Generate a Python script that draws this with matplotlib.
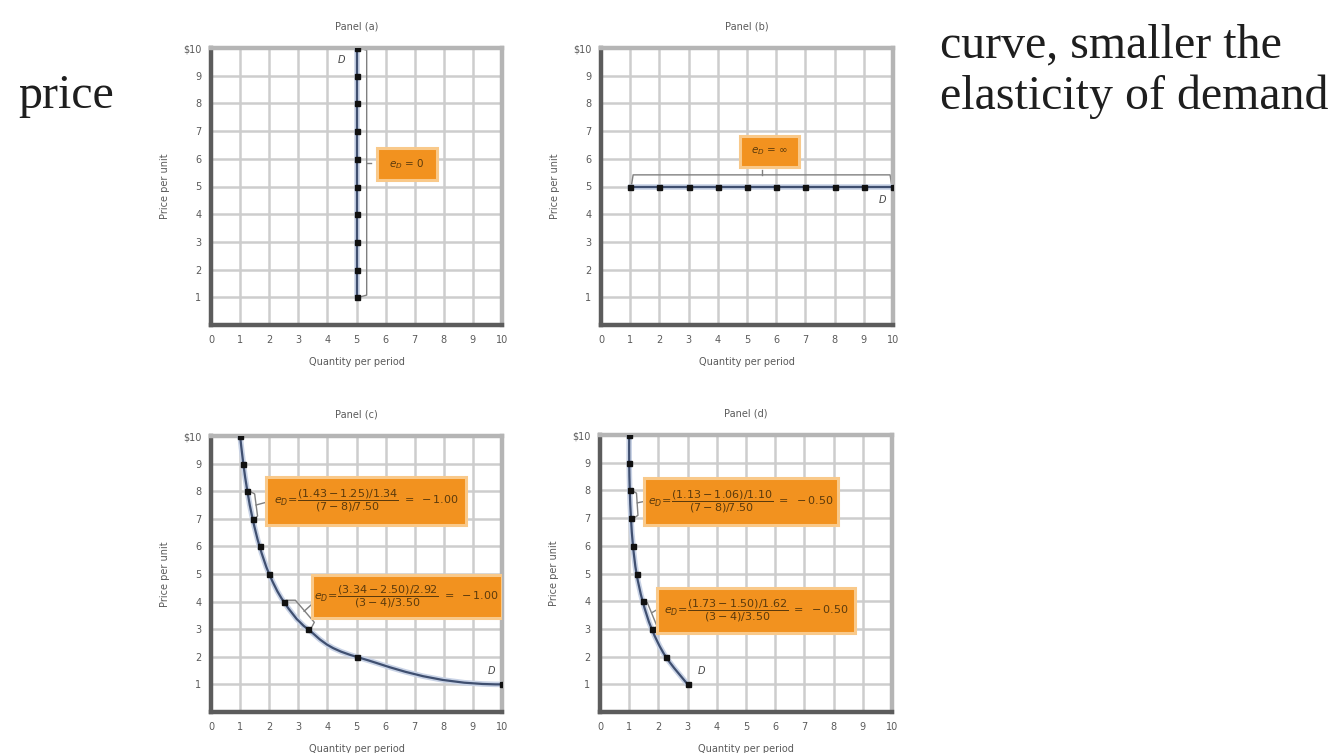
import matplotlib
matplotlib.use("Agg")
import matplotlib.pyplot as plt
import matplotlib.patheffects as pe
from matplotlib.patches import FancyBboxPatch, PathPatch
from matplotlib.path import Path

# ---------------- data ----------------
prices = [10, 9, 8, 7, 6, 5, 4, 3, 2, 1]
qty_a = [5, 5, 5, 5, 5, 5, 5, 5, 5, 5]
qty_b = [1, 2, 3, 4, 5, 6, 7, 8, 9, 10]
price_b = [5, 5, 5, 5, 5, 5, 5, 5, 5, 5]
qty_c = [1.00, 1.11, 1.25, 1.43, 1.67, 2.00, 2.50, 3.33, 5.00, 10.00]
qty_d = [1.00, 1.00, 1.02, 1.06, 1.13, 1.25, 1.46, 1.77, 2.25, 3.00]

panel_titles = ["Panel (a)", "Panel (b)", "Panel (c)", "Panel (d)"]
x_ticks = list(range(0, 11))
x_tick_labels = [str(v) for v in x_ticks]
y_ticks = list(range(1, 11))
y_tick_labels = [str(v) for v in range(1, 10)] + ["$10"]
x_label = "Quantity per period"
y_label = "Price per unit"

label_a = r"$e_D$ = 0"
label_b = r"$e_D$ = ∞"
labels_c = [r"$e_D\!=\!\dfrac{(1.43-1.25)/1.34}{(7-8)/7.50}\ =\ -1.00$",
            r"$e_D\!=\!\dfrac{(3.34-2.50)/2.92}{(3-4)/3.50}\ =\ -1.00$"]
labels_d = [r"$e_D\!=\!\dfrac{(1.13-1.06)/1.10}{(7-8)/7.50}\ =\ -0.50$",
            r"$e_D\!=\!\dfrac{(1.73-1.50)/1.62}{(3-4)/3.50}\ =\ -0.50$"]

side_left = "price"
side_right = ["curve, smaller the", "elasticity of demand"]

# ---------------- style ----------------
W, H = 1334, 753
fig = plt.figure(figsize=(W / 100, H / 100), dpi=100)
fig.patch.set_facecolor("white")

GRID = "#cdcdcd"
TXT = "#5a5a5a"
LINE = "#3f4f70"
BOX = "#F2921F"
BOXEDGE = "#F9C98A"
BTXT = "#5b3a0c"
BRK = "#808080"

def px_axes(l, t, r, b):
    return fig.add_axes([l / W, 1 - b / H, (r - l) / W, (b - t) / H])

def style(ax, title):
    ax.set_xlim(0, 10)
    ax.set_ylim(0, 10)
    ax.set_xticks(x_ticks)
    ax.set_xticklabels(x_tick_labels, fontsize=7, color=TXT)
    ax.set_yticks(y_ticks)
    ax.set_yticklabels(y_tick_labels, fontsize=7, color=TXT)
    ax.tick_params(length=0, pad=7)
    ax.grid(True, color=GRID, lw=1.8, zorder=0)
    ax.set_axisbelow(True)
    for s in ["left", "bottom"]:
        ax.spines[s].set_color("#5c5c5c")
        ax.spines[s].set_linewidth(3.2)
    for s in ["top", "right"]:
        ax.spines[s].set_color("#b5b5b5")
        ax.spines[s].set_linewidth(3.2)
    ax.set_title(title, fontsize=7, color=TXT, pad=13)
    ax.set_xlabel(x_label, fontsize=7, color=TXT, labelpad=9)
    ax.set_ylabel(y_label, fontsize=7, color=TXT, labelpad=9)

def smooth_path(xs, ys, flat_end=False):
    # Catmull-Rom spline through the points, drawn as cubic Bezier segments
    pts = list(zip(xs, ys))
    n = len(pts)
    verts = [pts[0]]
    codes = [Path.MOVETO]
    for i in range(n - 1):
        p0 = pts[i - 1] if i > 0 else pts[i]
        p1 = pts[i]
        p2 = pts[i + 1]
        p3 = pts[i + 2] if i + 2 < n else pts[i + 1]
        c1 = (p1[0] + (p2[0] - p0[0]) / 6, p1[1] + (p2[1] - p0[1]) / 6)
        c2 = (p2[0] - (p3[0] - p1[0]) / 6, p2[1] - (p3[1] - p1[1]) / 6)
        if flat_end and i == n - 2:
            c2 = (p2[0] - (p2[0] - p1[0]) / 2, p2[1])
        verts += [c1, c2, p2]
        codes += [Path.CURVE4] * 3
    return Path(verts, codes)

def curve(ax, xs, ys, smooth=False, flat_end=False):
    effects = [pe.Stroke(linewidth=4, foreground="#c9d3e6"), pe.Normal()]
    if smooth:
        patch = PathPatch(smooth_path(xs, ys, flat_end), fc="none", ec=LINE, lw=1.6,
                          zorder=3, path_effects=effects, capstyle="round")
        ax.add_patch(patch)
    else:
        ax.plot(xs, ys, color=LINE, lw=1.6, zorder=3, path_effects=effects,
                solid_capstyle="round")
    ax.plot(xs, ys, ls="none", marker="s", ms=3.6, color="#111111", zorder=4)

def box(ax, x0, y0, x1, y1, text, fs):
    p = FancyBboxPatch((x0, y0), x1 - x0, y1 - y0, boxstyle="square,pad=0",
                       fc=BOX, ec=BOXEDGE, lw=2.2, zorder=5)
    ax.add_patch(p)
    ax.text((x0 + x1) / 2, (y0 + y1) / 2, text, fontsize=fs, color=BTXT,
            ha="center", va="center", zorder=6)

def bracket(ax, pts, mid=None):
    xs = [p[0] for p in pts]
    ys = [p[1] for p in pts]
    ax.plot(xs, ys, color=BRK, lw=1.0, zorder=2.5, solid_joinstyle="round")
    if mid is not None:
        ax.plot([mid[0][0], mid[1][0]], [mid[0][1], mid[1][1]], color=BRK, lw=1.0, zorder=2.5)

# Panel (a)
ax = px_axes(211, 48, 502, 325)
style(ax, panel_titles[0])
curve(ax, qty_a, prices)
bracket(ax, [(5.08, 10.0), (5.35, 9.92), (5.35, 1.08), (5.08, 1.0)],
        mid=[(5.35, 5.85), (5.5, 5.85)])
box(ax, 5.7, 5.25, 7.75, 6.4, label_a, 7.5)
ax.text(4.5, 9.55, "D", fontsize=7, style="italic", color="#444", ha="center", va="center")

# Panel (b)
ax = px_axes(601, 48, 893, 325)
style(ax, panel_titles[1])
curve(ax, qty_b, price_b)
bracket(ax, [(1.05, 5.08), (1.1, 5.42), (9.9, 5.42), (9.95, 5.08)],
        mid=[(5.5, 5.42), (5.5, 5.6)])
box(ax, 4.75, 5.72, 6.77, 6.83, label_b, 7.5)
ax.text(9.63, 4.52, "D", fontsize=7, style="italic", color="#444", ha="center", va="center")

# Panel (c)
ax = px_axes(211, 436, 502, 712)
style(ax, panel_titles[2])
curve(ax, qty_c, prices, smooth=True, flat_end=True)
bracket(ax, [(1.33, 8.0), (1.5, 7.9), (1.6, 7.1), (1.5, 7.0)],
        mid=[(1.55, 7.5), (1.9, 7.6)])
bracket(ax, [(2.6, 4.05), (2.9, 4.05), (3.55, 3.25), (3.45, 3.05)],
        mid=[(3.2, 3.65), (3.46, 3.9)])
box(ax, 1.89, 6.78, 8.78, 8.53, labels_c[0], 8)
box(ax, 3.46, 3.40, 10.0, 4.97, labels_c[1], 8)
ax.text(9.63, 1.47, "D", fontsize=7, style="italic", color="#444", ha="center", va="center")

# Panel (d)
ax = px_axes(600, 435, 892, 712)
style(ax, panel_titles[3])
curve(ax, qty_d, prices, smooth=True)
bracket(ax, [(1.08, 8.0), (1.25, 7.9), (1.3, 7.1), (1.15, 7.0)],
        mid=[(1.28, 7.55), (1.5, 7.6)])
bracket(ax, [(1.5, 4.0), (1.62, 3.95), (1.95, 3.1), (1.85, 3.0)],
        mid=[(1.8, 3.6), (1.96, 3.7)])
box(ax, 1.5, 6.75, 8.15, 8.44, labels_d[0], 8)
box(ax, 1.96, 2.85, 8.72, 4.47, labels_d[1], 8)
ax.text(3.48, 1.47, "D", fontsize=7, style="italic", color="#444", ha="center", va="center")

# Slide text
serif = ["Liberation Serif", "DejaVu Serif"]
fig.text(18 / W, 1 - 108 / H, side_left, fontsize=34.5, family=serif, color="#1e1e1e",
         ha="left", va="baseline")
for i, line in enumerate(side_right):
    fig.text(940 / W, 1 - (57 + 52 * i) / H, line, fontsize=34.5, family=serif,
             color="#1e1e1e", ha="left", va="baseline")

fig.savefig("out.png", dpi=100, facecolor="white")
